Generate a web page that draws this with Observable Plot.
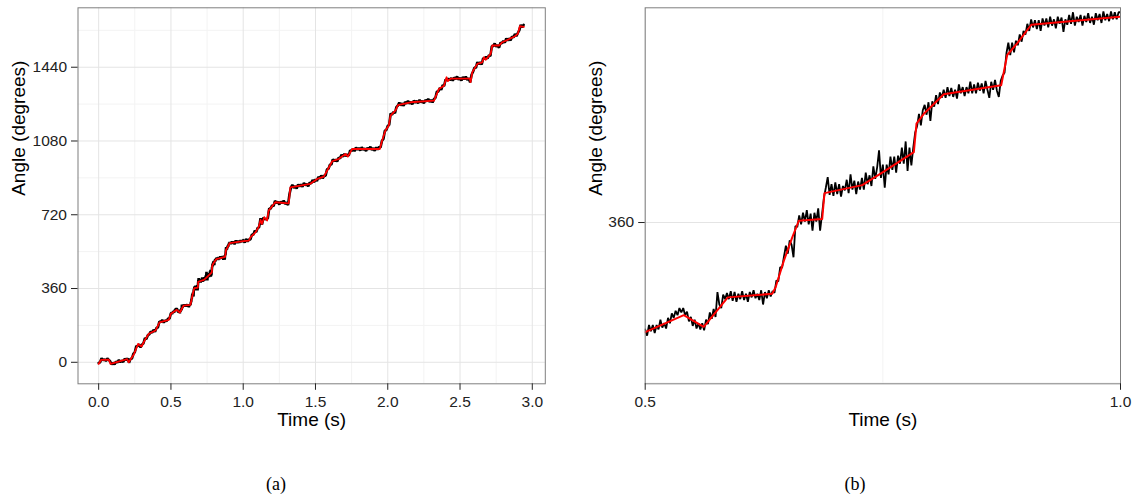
<!DOCTYPE html>
<html>
<head>
<meta charset="utf-8">
<script src="https://cdn.jsdelivr.net/npm/d3@7"></script>
<script src="https://cdn.jsdelivr.net/npm/@observablehq/plot@0.6"></script>
<style>
  html, body { margin: 0; padding: 0; background: #fff; }
  #wrap { position: relative; width: 1140px; height: 498px; overflow: hidden; font-family: "Liberation Sans", Arial, sans-serif; }
  .panel { position: absolute; top: 0; }
  .cap { position: absolute; top: 484px; transform: translate(-50%, -50%); font-family: "Liberation Serif", "DejaVu Serif", serif; font-size: 18px; color: #000; }
</style>
</head>
<body>
<div id="wrap">
  <div class="panel" id="pa" style="left:0px"></div>
  <div class="panel" id="pb" style="left:570px"></div>
  <div class="cap" style="left:276px">(a)</div>
  <div class="cap" style="left:855px">(b)</div>
</div>
<script>
// ---- fitted (red) curve: key points ----
const fitTime = [0, 0.017, 0.07, 0.082, 0.197, 0.208, 0.243, 0.273, 0.296, 0.324, 0.347, 0.393, 0.421, 0.485, 0.498,
  0.5, 0.5406, 0.5616, 0.5869, 0.6336, 0.6371, 0.6458, 0.6546, 0.6616, 0.6862, 0.6886, 0.7283, 0.7493, 0.7826, 0.7854,
  0.7931, 0.8141, 0.8745, 0.8808, 0.8913, 0.9061, 1.0,
  1.039, 1.05, 1.085, 1.108, 1.12, 1.13, 1.146, 1.165, 1.176, 1.222, 1.315, 1.326, 1.464, 1.512, 1.558, 1.581, 1.616,
  1.662, 1.708, 1.724, 1.754, 1.945, 1.961, 1.984, 2.007, 2.019, 2.054, 2.07, 2.158, 2.32, 2.354, 2.389, 2.407, 2.416,
  2.435, 2.568, 2.573, 2.585, 2.62, 2.654, 2.666, 2.677, 2.712, 2.723, 2.77, 2.793, 2.878, 2.9, 2.914, 2.942];
const fitAngle = [-8, 12, 13, -8, 15, 0, 38, 90, 77, 114, 139, 155, 195, 207, 233,
  237, 256, 243, 276, 280, 287, 317, 343, 362, 364, 393, 402, 416, 439, 471,
  482, 504, 514, 548, 561, 582, 591,
  594, 610, 634, 662, 695, 675, 708, 692, 740, 781, 776, 854, 871, 895, 906, 936, 981,
  993, 1017, 1004, 1041, 1041, 1082, 1131, 1155, 1204, 1229, 1255, 1269, 1277, 1334, 1350, 1391, 1372,
  1384, 1384, 1367, 1416, 1456, 1464, 1489, 1476, 1505, 1546, 1546, 1562, 1590, 1603, 1640, 1637];

// ---- raw (black) measurements, uniformly sampled ----
const rawStartA0 = 0, rawStepA0 = 0.01;
const rawAngleA0 = [-3, 0, 20, 10, 15, 6, 19, 12, 4, -11, -2, -10, 4, -1, 11, 0, 9, 1, 17, 12,
  19, -2, 16, 18, 41, 49, 78, 80, 88, 73, 86, 93, 118, 113, 132, 136, 150, 145, 158, 149,
  168, 170, 199, 196, 207, 194, 204, 201, 213, 213];
const rawStartB = 0.5, rawStepB = 0.002;
const rawAngleB = [240, 233, 245, 238, 245, 236, 245, 240, 251, 242, 247, 241, 253, 247, 258, 253, 261, 256, 264, 259,
  264, 256, 260, 249, 254, 244, 251, 241, 247, 240, 247, 239, 251, 246, 259, 252, 263, 254, 282, 268,
  264, 279, 274, 281, 274, 283, 272, 282, 271, 280, 274, 283, 273, 280, 271, 282, 276, 284, 275, 280,
  273, 284, 268, 282, 275, 284, 277, 283, 281, 295, 294, 310, 309, 322, 334, 325, 340, 335, 321, 356,
  355, 368, 358, 371, 361, 374, 358, 370, 351, 371, 361, 376, 351, 369, 388, 399, 411, 391, 403, 390,
  405, 392, 403, 389, 401, 396, 408, 393, 414, 397, 407, 392, 406, 397, 410, 397, 416, 403, 413, 401,
  423, 409, 422, 441, 410, 425, 399, 425, 414, 434, 419, 434, 416, 435, 426, 444, 426, 451, 418, 444,
  424, 444, 461, 468, 482, 469, 486, 492, 481, 495, 474, 496, 490, 503, 493, 506, 500, 509, 500, 512,
  502, 511, 501, 509, 499, 515, 505, 512, 502, 512, 505, 518, 505, 515, 505, 517, 508, 516, 505, 519,
  509, 500, 518, 509, 520, 508, 501, 519, 525, 528, 550, 562, 548, 562, 551, 564, 559, 571, 563, 575,
  571, 583, 575, 588, 579, 587, 577, 587, 575, 589, 581, 589, 579, 591, 581, 588, 578, 591, 583, 590,
  574, 588, 582, 593, 583, 596, 581, 591, 585, 593, 581, 592, 585, 595, 584, 591, 582, 595, 587, 594,
  584, 597, 587, 594, 586, 597, 588, 596, 588, 596];
const rawStartA1 = 1.0, rawStepA1 = 0.01;
const rawAngleA1 = [596, 584, 602, 589, 599, 600, 623, 622, 642, 635, 656, 659, 703, 672, 706, 699, 698, 703, 751, 749,
  766, 762, 788, 777, 783, 770, 785, 776, 789, 772, 781, 767, 820, 852, 866, 851, 860, 848, 868, 858,
  868, 856, 875, 863, 871, 859, 877, 872, 890, 879, 893, 885, 905, 896, 912, 898, 911, 911, 942, 944,
  965, 965, 991, 981, 990, 980, 999, 995, 1013, 1003, 1017, 1006, 1015, 1008, 1034, 1030, 1043, 1030, 1048, 1037,
  1046, 1033, 1050, 1037, 1044, 1031, 1047, 1039, 1052, 1036, 1045, 1032, 1049, 1038, 1051, 1048, 1081, 1090, 1130, 1133,
  1153, 1159, 1214, 1208, 1222, 1216, 1245, 1253, 1268, 1253, 1264, 1252, 1271, 1262, 1276, 1262, 1271, 1259, 1277, 1267,
  1276, 1264, 1281, 1269, 1276, 1264, 1280, 1273, 1286, 1271, 1280, 1268, 1285, 1291, 1321, 1321, 1339, 1330, 1353, 1348,
  1380, 1377, 1384, 1377, 1387, 1374, 1390, 1382, 1395, 1379, 1388, 1375, 1392, 1381, 1394, 1378, 1386, 1366, 1403, 1418,
  1438, 1437, 1465, 1454, 1464, 1453, 1483, 1482, 1490, 1482, 1499, 1494, 1543, 1543, 1556, 1540, 1548, 1535, 1560, 1556,
  1569, 1560, 1580, 1570, 1581, 1571, 1590, 1585, 1602, 1592, 1607, 1620, 1647, 1635, 1647];

// ---- axes ----
const xTicksA = [0, 0.5, 1.0, 1.5, 2.0, 2.5, 3.0];
const xMinorA = [0.25, 0.75, 1.25, 1.75, 2.25, 2.75];
const yTicksA = [0, 360, 720, 1080, 1440];
const yMinorA = [180, 540, 900, 1260, 1620];
const xTicksB = [0.5, 1.0];
const xMinorB = [0.75];
const yTicksB = [360];
const yMinorB = [180];

// ---- tables ----
const fit = fitTime.map((t, i) => ({t, a: fitAngle[i]}));
const raw = [
  ...rawAngleA0.map((a, i) => ({t: +(rawStartA0 + i * rawStepA0).toFixed(4), a})),
  ...rawAngleB.map((a, i) => ({t: +(rawStartB + i * rawStepB).toFixed(4), a})),
  ...rawAngleA1.map((a, i) => ({t: +(rawStartA1 + i * rawStepA1).toFixed(4), a}))
];
const inB = d => d.t >= 0.5 && d.t <= 1.0;

const FONT = "Liberation Sans, Arial, Helvetica, sans-serif";
const MAJOR = "#e4e4e4", MINOR = "#f3f3f3";

function panel({xDomain, yDomain, xTicks, xMinor, yTicks, yMinor, rawData, fitData, ml, mr, blackW, redW, yTitleDx}) {
  return Plot.plot({
    width: 570, height: 430,
    marginLeft: ml, marginRight: mr, marginTop: 7.3, marginBottom: 46.7,
    x: {domain: xDomain},
    y: {domain: yDomain},
    style: {fontFamily: FONT, background: "white", color: "#000"},
    marks: [
      Plot.ruleX(xMinor, {stroke: MINOR, strokeWidth: 1}),
      Plot.ruleY(yMinor, {stroke: MINOR, strokeWidth: 1}),
      Plot.ruleX(xTicks, {stroke: MAJOR, strokeWidth: 1}),
      Plot.ruleY(yTicks, {stroke: MAJOR, strokeWidth: 1}),
      Plot.line(rawData, {x: "t", y: "a", stroke: "#000", strokeWidth: blackW, strokeLinejoin: "miter", clip: true}),
      Plot.line(fitData, {x: "t", y: "a", stroke: "#ff0000", strokeWidth: redW, clip: true}),
      Plot.frame({stroke: "#7f7f7f", strokeWidth: 1}),
      Plot.axisX({ticks: xTicks, tickFormat: d3.format(".1f"), tickSize: 6.5, tickPadding: 6, fontSize: 15.5, label: null, color: "#222"}),
      Plot.axisY({ticks: yTicks, tickFormat: d => String(d), tickSize: 6.5, tickPadding: 4.5, fontSize: 15.5, label: null, color: "#222"}),
      Plot.text(["Time (s)"], {frameAnchor: "bottom", dy: 42, fontSize: 19, fill: "#000", fontFamily: FONT}),
      Plot.text(["Angle (degrees)"], {frameAnchor: "left", dx: yTitleDx, rotate: -90, fontSize: 19, fill: "#000", fontFamily: FONT})
    ]
  });
}

document.getElementById("pa").append(panel({
  xDomain: [-0.143, 3.09], yDomain: [-105, 1730],
  xTicks: xTicksA, xMinor: xMinorA, yTicks: yTicksA, yMinor: yMinorA,
  rawData: raw, fitData: fit, ml: 77.5, mr: 25.2, blackW: 2.6, redW: 1.8, yTitleDx: -59
}));
document.getElementById("pb").append(panel({
  xDomain: [0.5, 1.0], yDomain: [179, 601],
  xTicks: xTicksB, xMinor: xMinorB, yTicks: yTicksB, yMinor: yMinorB,
  rawData: raw.filter(inB), fitData: fit.filter(inB), ml: 74.7, mr: 20, blackW: 1.8, redW: 2, yTitleDx: -49
}));
</script>
</body>
</html>
